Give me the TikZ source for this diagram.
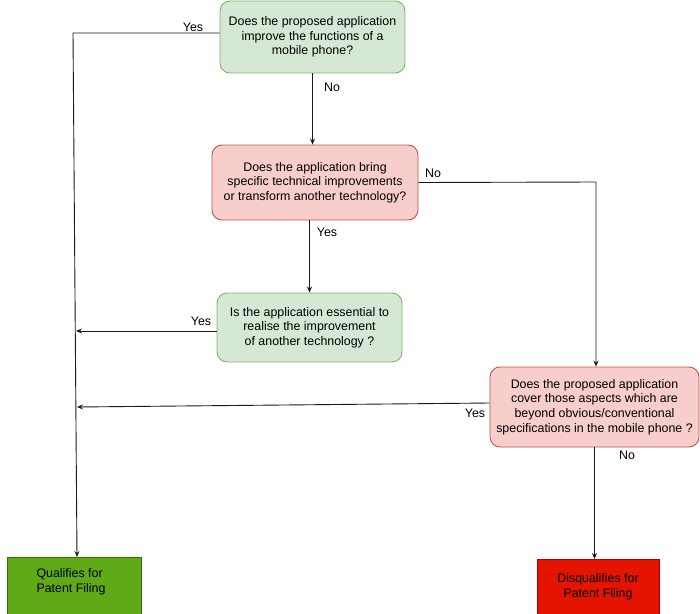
\documentclass[tikz,border=0pt]{standalone}
\usepackage{fontspec}
\setmainfont{Liberation Sans}
\usetikzlibrary{arrows.meta}
\definecolor{gfill}{HTML}{D5E8D4}
\definecolor{gdraw}{HTML}{82B366}
\definecolor{rfill}{HTML}{F8CECC}
\definecolor{rdraw}{HTML}{B85450}
\definecolor{qfill}{HTML}{60A917}
\definecolor{qdraw}{HTML}{2D7600}
\definecolor{dfill}{HTML}{E51400}
\definecolor{ddraw}{HTML}{B20000}
\definecolor{linec}{HTML}{1A1A1A}
\tikzset{
  txt/.style={font=\fontsize{12.4}{14.7}\selectfont},
  gbox/.style={txt, draw=gdraw, fill=gfill, rounded corners=10pt, line width=0.9pt, align=center, inner sep=0pt},
  rbox/.style={txt, draw=rdraw, fill=rfill, rounded corners=10pt, line width=0.9pt, align=center, inner sep=0pt},
  qbox/.style={txt, draw=qdraw, fill=qfill, line width=0.9pt, inner sep=0pt},
  dbox/.style={txt, draw=ddraw, fill=dfill, line width=0.9pt, inner sep=0pt},
  conn/.style={draw=linec, line width=0.9pt},
  arr/.style={conn, -{Stealth[length=6pt,width=5pt]}},
  lbl/.style={txt, inner sep=0pt}
}
\begin{document}
\begin{tikzpicture}[x=1pt,y=-1pt]
\useasboundingbox (0,0) rectangle (700,613);
% boxes
\node[gbox, minimum width=185pt, minimum height=72pt] (b1) at (312.5,37) {Does the proposed application\\improve the functions of a\\mobile phone?};
\node[rbox, minimum width=206pt, minimum height=75pt] (b2) at (315,182.5) {Does the application bring\\specific technical improvements\\or transform another technology?};
\node[gbox, minimum width=185pt, minimum height=69pt] (b3) at (309.5,327.5) {Is the application essential to\\realise the improvement\\ of another technology ?};
\node[rbox, minimum width=209pt, minimum height=80pt] (b4) at (594.5,407) {Does the proposed application\\cover those aspects which are\\beyond obvious/conventional\\specifications in the mobile phone ?};
\node[qbox, minimum width=134pt, minimum height=60pt, anchor=north] (b5) at (74,557) {};
\node[txt, align=left, inner sep=0pt] (t5) at (71,582) {Qualifies for\\Patent Filing};
\node[dbox, minimum width=122pt, minimum height=60pt, anchor=north, align=center] (b6) at (598,559) {\raisebox{8pt}{\shortstack{Disqualifies for\\[1pt]Patent Filing}}};
% coordinates
\coordinate (c1) at (73,33);
\coordinate (c3) at (76,331);
\coordinate (c4) at (77,407);
\coordinate (c2) at (596,182);
% connectors
\draw[arr] (b1.west |- c1) -- (c1) -- ([xshift=3pt]b5.north);
\draw[arr] (b1.south) -- (b1.south |- b2.north);
\draw[arr] (b3.north |- b2.south) -- (b3.north);
\draw[arr] (b2.east) -- (c2) -- (c2 |- b4.north);
\draw[arr] (b3.west |- c3) -- (c3);
\draw[arr] ([yshift=4pt]b4.west) -- (c4);
\draw[arr] (b4.south) -- (b4.south |- b6.north);
% labels
\node[lbl] (l1) at (193,27) {Yes};
\node[lbl] (l2) at (332,87) {No};
\node[lbl] (l3) at (433,173) {No};
\node[lbl] (l4) at (327,232) {Yes};
\node[lbl] (l5) at (201,321) {Yes};
\node[lbl] (l6) at (475,413) {Yes};
\node[lbl] (l7) at (627,455) {No};
\end{tikzpicture}
\end{document}
